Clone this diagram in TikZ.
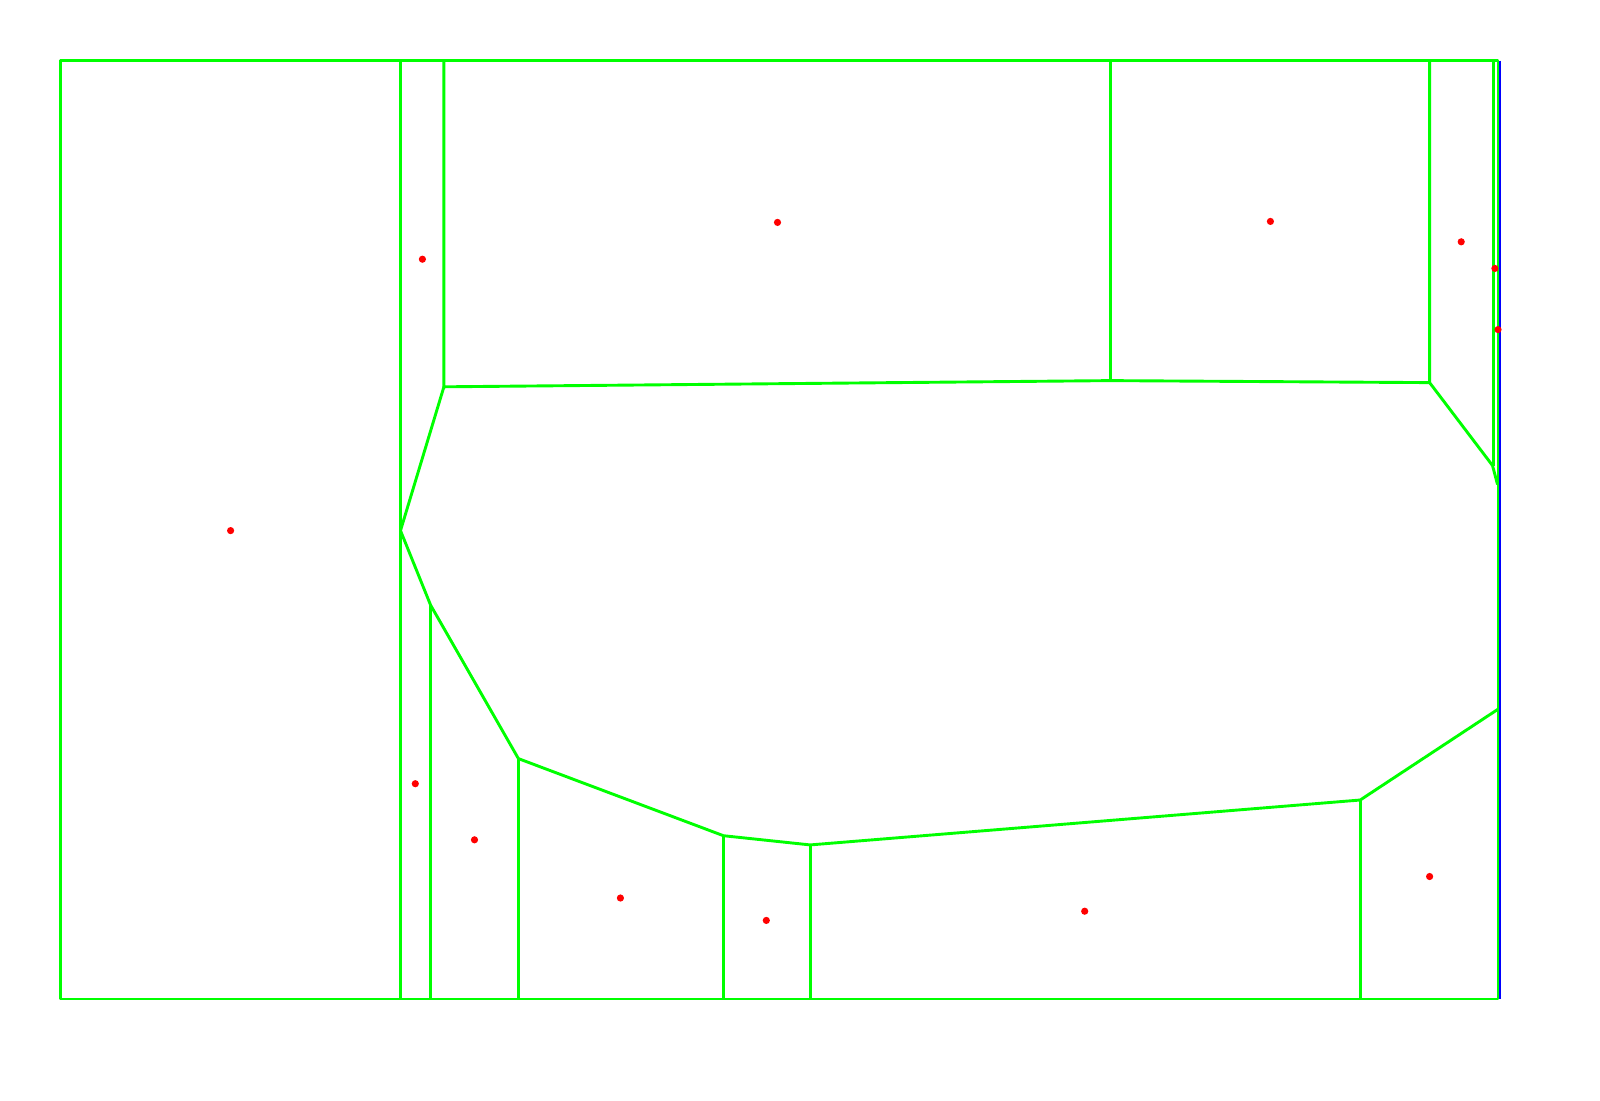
\documentclass[tikz,border=0pt]{standalone}
\begin{document}
\begin{tikzpicture}[x=0.5pt, y=-0.5pt,
    edge/.style={draw=green, line width=1.45pt, line join=round},
    site/.style={fill=red}]
    \useasboundingbox (0,0) rectangle (1600,1100);

    % outer frame
    \draw[blue, line width=0.6pt] (1500,60.5) -- (1500,999);
    \draw[edge] (60.5,60.5) rectangle (1498,999);

    % cell boundaries
    \draw[edge] (400.5,60.5) -- (400.5,999);
    \draw[edge] (443.9,60.5) -- (443.9,386.8) -- (1110.2,380.6) -- (1429.6,382.6);
    \draw[edge] (1110.2,60.5) -- (1110.2,380.6);
    \draw[edge] (1429.6,60.5) -- (1429.6,382.6) -- (1492.5,465.5) -- (1497.5,484.5);
    \draw[edge] (1493.3,60.5) -- (1493.3,465.5);

    % lower boundary of the empty middle cell
    \draw[edge] (443.9,386.8) -- (400.5,530.6) -- (430.6,605.1) -- (518.4,758.6)
        -- (723.5,835.7) -- (810.2,844.9) -- (1360.2,800) -- (1498,709.2);

    \foreach \x/\y in {430.6/605.1, 518.4/758.6, 723.5/835.7, 810.2/844.9, 1360.2/800}
        \draw[edge] (\x,\y) -- (\x,999);

    % sites
    \foreach \x/\y in {230.6/530.6, 422.4/259.2, 777.5/222.4, 1270.4/221.4,
                       1461.2/241.8, 1494.9/268.4, 1498/329.6,
                       415.3/783.7, 474.5/839.8, 620.4/898, 766.3/920.4,
                       1084.7/911.2, 1429.6/876.5}
        \fill[site] (\x,\y) circle (1.8pt);
\end{tikzpicture}
\end{document}
